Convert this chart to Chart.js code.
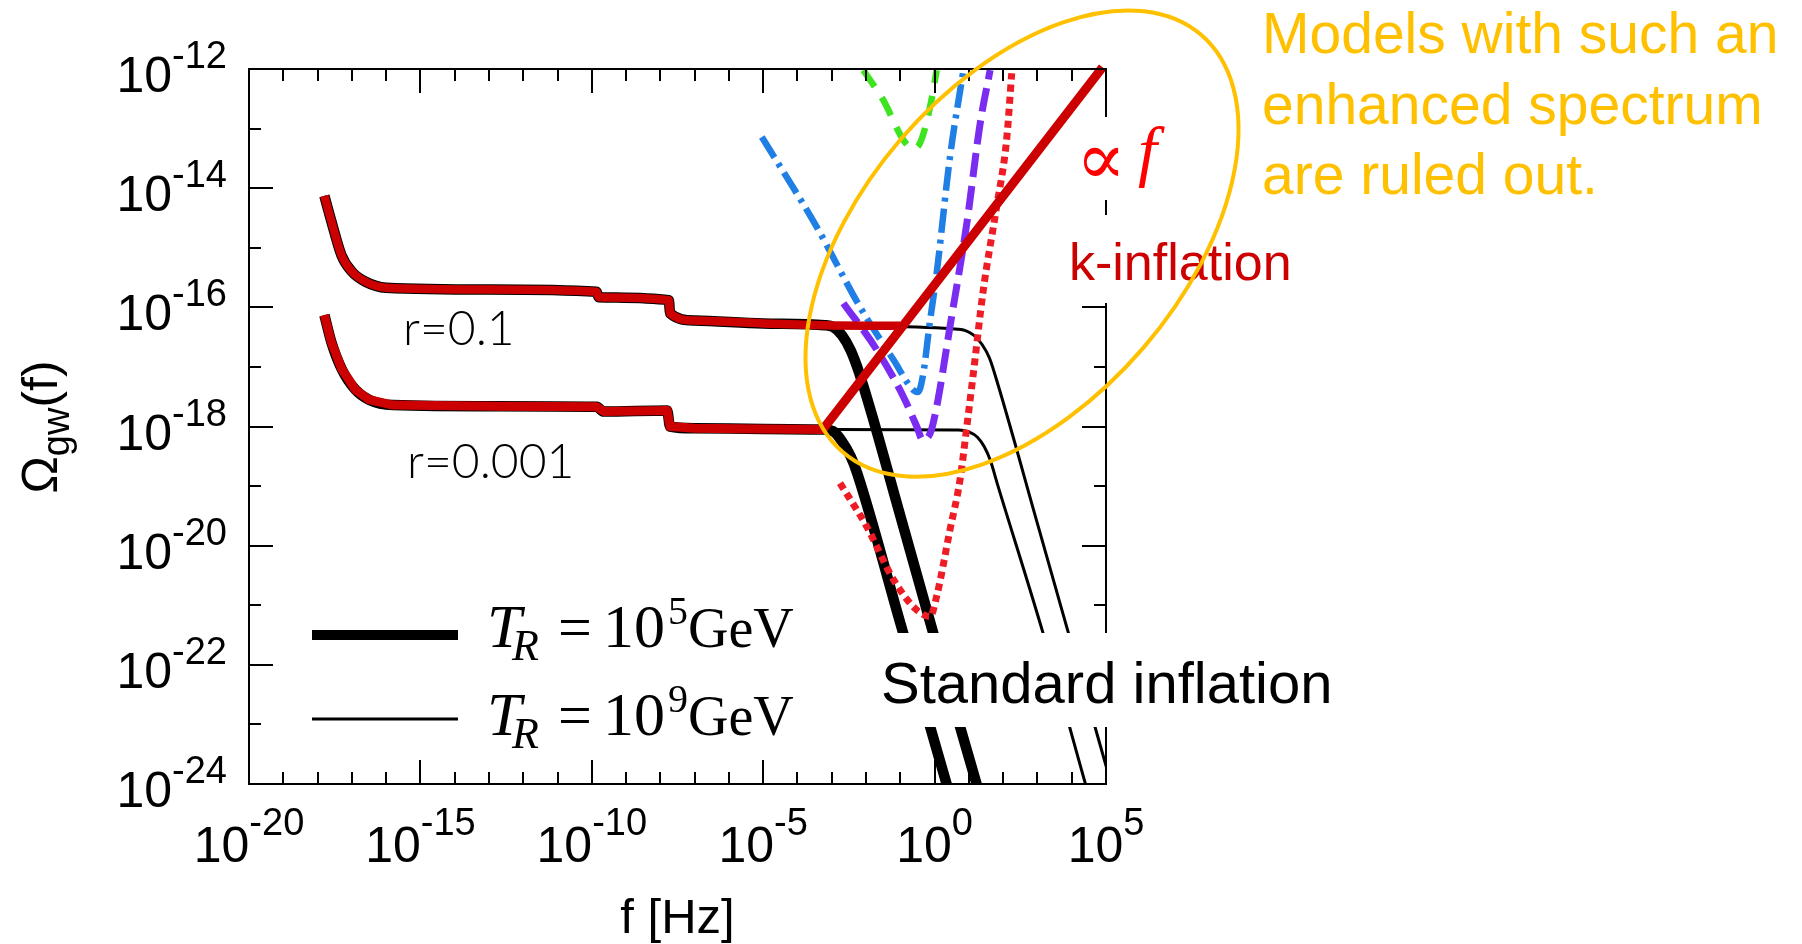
<!DOCTYPE html>
<html>
<head>
<meta charset="utf-8">
<title>Omega_gw(f)</title>
<script src="https://cdn.jsdelivr.net/npm/chart.js@4"></script>
<style>
html, body { margin: 0; padding: 0; background: #fff; }
#wrap { position: relative; width: 1802px; height: 944px; }
</style>
</head>
<body>
<div id="wrap"><canvas id="chart"></canvas></div>
<script>
// all values are log10 exponents: f in Hz, Omega_gw dimensionless
const fRange = [-20, 5];
const omegaRange = [-24, -12];
const fLabelExps = [-20, -15, -10, -5, 0, 5];
const omegaLabelExps = [-24, -22, -20, -18, -16, -14, -12];
const legendExps = ['5', '9'];

// r = 0.1, common low-frequency part
const flatHiF = [-17.8, -17.6, -17.3, -17.0, -16.6, -16.0, -13.0, -9.86, -9.8, -7.75, -7.72, -7.0, -5.0, -3.2];
const flatHiO = [-14.13, -14.55, -15.13, -15.4, -15.57, -15.67, -15.7, -15.74, -15.83, -15.88, -16.1, -16.22, -16.27, -16.3];
// r = 0.001, common low-frequency part
const flatLoF = [-17.8, -17.6, -17.3, -16.9, -16.5, -15.8, -12.8, -9.86, -9.65, -7.8, -7.72, -7.0, -5.0, -3.26];
const flatLoO = [-16.13, -16.58, -17.03, -17.38, -17.55, -17.64, -17.66, -17.67, -17.75, -17.73, -18.0, -18.03, -18.04, -18.05];

// high-frequency fall-off, T_R = 1e5 GeV (thick)
const dropHi5F = [-2.96, -2.7, -2.45, -2.2, -1.0, 0.0, 1.3];
const dropHi5O = [-16.33, -16.47, -16.72, -17.1, -19.5, -21.55, -24.15];
const dropLo5F = [-2.96, -2.7, -2.45, -2.26, -1.0, 0.45];
const dropLo5O = [-18.08, -18.25, -18.5, -18.78, -21.3, -24.2];
// T_R = 1e9 GeV (thin)
const dropHi9F = [0.5, 0.9, 1.15, 1.38, 1.6, 1.85, 3.0, 4.0, 5.2];
const dropHi9O = [-16.36, -16.39, -16.47, -16.62, -16.85, -17.3, -19.63, -21.66, -24.1];
const dropLo9F = [0.7, 1.0, 1.25, 1.45, 1.62, 1.85, 3.16, 4.45];
const dropLo9O = [-18.06, -18.09, -18.18, -18.34, -18.56, -19.0, -21.46, -24.1];

// k-inflation: follows r=0.001 then rises as a straight line; r=0.1 branch ends at crossing
const kEndF = [4.9];
const kEndO = [-11.97];
const kHiEndF = [-1.0];
const kHiEndO = [-16.31];

// sensitivity curves
const blueF = [-5.04, -3.44, -2.18, -1.2, -0.62, -0.48, -0.33, -0.15, 0.06, 0.45, 0.84];
const blueO = [-13.14, -14.65, -15.99, -16.88, -17.39, -17.42, -17.11, -16.3, -15.43, -13.47, -12.02];
const purpleF = [-2.66, -1.69, -0.91, -0.52, -0.35, -0.12, 0.06, 0.45, 0.94, 1.33, 1.62];
const purpleO = [-15.93, -16.71, -17.5, -18.0, -18.22, -18.1, -17.67, -16.32, -14.59, -12.91, -12.02];
const redDotF = [-2.76, -1.98, -1.2, -0.52, -0.13, 0.06, 0.45, 0.74, 0.94, 1.13, 1.42, 1.81, 2.1, 2.25];
const redDotO = [-18.95, -19.68, -20.57, -21.08, -21.19, -20.85, -19.73, -18.9, -18.0, -17.11, -15.71, -14.31, -13.19, -12.07];
const greenF = [-2.08, -1.5, -0.9, -0.62, -0.43, -0.13, 0.06];
const greenO = [-12.02, -12.52, -13.2, -13.33, -13.25, -12.63, -12.02];

// yellow ellipse: centre in data exponents
const ellipseCentre = [2.55, -14.93];

const pts = (fs, os) => fs.map((f, i) => ({ x: 10 ** f, y: 10 ** os[i] }));

function curve(label, fs, os, color, width, dash, order, extra) {
    return Object.assign({
        label: label,
        data: pts(fs, os),
        showLine: true,
        borderColor: color,
        borderWidth: width,
        borderDash: dash,
        pointRadius: 0,
        fill: false,
        order: order,
        cubicInterpolationMode: 'monotone',
        borderJoinStyle: 'round'
    }, extra || {});
}

const datasets = [
    curve('k-inflation', flatLoF.concat(kEndF), flatLoO.concat(kEndO), '#cc0000', 9, [], 0,
        { cubicInterpolationMode: 'default', tension: 0, clip: 6 }),
    curve('k-inflation r=0.1', flatHiF.concat(kHiEndF), flatHiO.concat(kHiEndO), '#cc0000', 8.5, [], 1),
    curve('green', greenF, greenO, '#3fe420', 6.5, [20, 13], 2),
    curve('blue', blueF, blueO, '#1f7fe5', 6.5, [24, 7, 4, 7], 3),
    curve('purple', purpleF, purpleO, '#7a2df0', 7, [24, 9], 4),
    curve('red dotted', redDotF, redDotO, '#ee1c25', 7, [7, 5], 5),
    curve('r=0.1 TR=1e9', flatHiF.concat(dropHi9F), flatHiO.concat(dropHi9O), '#000', 3, [], 6),
    curve('r=0.001 TR=1e9', flatLoF.concat(dropLo9F), flatLoO.concat(dropLo9O), '#000', 3, [], 7),
    curve('r=0.1 TR=1e5', flatHiF.concat(dropHi5F), flatHiO.concat(dropHi5O), '#000', 10.5, [], 8),
    curve('r=0.001 TR=1e5', flatLoF.concat(dropLo5F), flatLoO.concat(dropLo5O), '#000', 10.5, [], 9)
];

const SANS = '"Liberation Sans", Arial, Helvetica, sans-serif';
const SERIF = '"Liberation Serif", "Times New Roman", serif';

function put(ctx, s, x, y, font, color) {
    ctx.font = font;
    ctx.fillStyle = color;
    ctx.fillText(s, x, y);
    return ctx.measureText(s).width;
}

const decorations = {
    id: 'decorations',
    afterDatasetsDraw(chart) {
        const ctx = chart.ctx;
        const a = chart.chartArea;
        const xs = chart.scales.x, ys = chart.scales.y;
        ctx.save();
        ctx.textAlign = 'left';
        ctx.textBaseline = 'alphabetic';

        // frame and inward ticks on all four sides
        ctx.strokeStyle = '#000';
        ctx.lineWidth = 2;
        ctx.strokeRect(a.left, a.top, a.right - a.left, a.bottom - a.top);
        ctx.beginPath();
        for (let e = fRange[0]; e <= fRange[1]; e++) {
            const px = Math.round(xs.getPixelForValue(10 ** e));
            const len = e % 5 === 0 ? 24 : 12;
            ctx.moveTo(px, a.bottom); ctx.lineTo(px, a.bottom - len);
            ctx.moveTo(px, a.top); ctx.lineTo(px, a.top + len);
        }
        for (let e = omegaRange[0]; e <= omegaRange[1]; e++) {
            const py = Math.round(ys.getPixelForValue(10 ** e));
            const len = e % 2 === 0 ? 24 : 12;
            ctx.moveTo(a.left, py); ctx.lineTo(a.left + len, py);
            ctx.moveTo(a.right, py); ctx.lineTo(a.right - len, py);
        }
        ctx.stroke();

        // tick labels 10^n
        const baseFont = '50px ' + SANS, supFont = '38px ' + SANS;
        ctx.font = baseFont;
        const bw = ctx.measureText('10').width;
        fLabelExps.forEach(e => {
            const px = xs.getPixelForValue(10 ** e);
            const sup = String(e);
            ctx.font = supFont;
            const sw = ctx.measureText(sup).width;
            const x0 = px - (bw + sw) / 2;
            put(ctx, '10', x0, a.bottom + 78, baseFont, '#000');
            put(ctx, sup, x0 + bw, a.bottom + 51, supFont, '#000');
        });
        omegaLabelExps.forEach(e => {
            const py = ys.getPixelForValue(10 ** e);
            const sup = String(e);
            ctx.font = supFont;
            const sw = ctx.measureText(sup).width;
            const x0 = a.left - 22 - sw - bw;
            put(ctx, '10', x0, py + 23, baseFont, '#000');
            put(ctx, sup, x0 + bw, py - 1, supFont, '#000');
        });

        // axis titles
        ctx.font = '49px ' + SANS;
        const tw = ctx.measureText('f [Hz]').width;
        put(ctx, 'f [Hz]', (a.left + a.right) / 2 - tw / 2, 933, '49px ' + SANS, '#000');

        ctx.save();
        ctx.translate(57, 427);
        ctx.rotate(-Math.PI / 2);
        ctx.font = '50px ' + SANS;
        const w1 = ctx.measureText('\u03A9').width;
        const w3 = ctx.measureText('(f)').width;
        ctx.font = '38px ' + SANS;
        const w2 = ctx.measureText('gw').width;
        let tx = -(w1 + w2 + w3) / 2;
        tx += put(ctx, '\u03A9', tx, 0, '50px ' + SANS, '#000');
        tx += put(ctx, 'gw', tx, 12, '38px ' + SANS, '#000');
        put(ctx, '(f)', tx, 0, '50px ' + SANS, '#000');
        ctx.restore();

        // curve labels
        put(ctx, 'r=0.1', 403, 345, '300 48px Lato, ' + SANS, '#000');
        put(ctx, 'r=0.001', 407, 478, '300 48px Lato, ' + SANS, '#000');

        // legend
        const rows = [{ y: 635, text: 647, w: 10 }, { y: 719, text: 735, w: 3 }];
        rows.forEach((r, i) => {
            ctx.strokeStyle = '#000';
            ctx.lineWidth = r.w;
            ctx.beginPath();
            ctx.moveTo(312, r.y); ctx.lineTo(458, r.y);
            ctx.stroke();
            put(ctx, 'T', 487, r.text, 'italic 62px ' + SERIF, '#000');
            put(ctx, 'R', 512, r.text + 13, 'italic 44px ' + SERIF, '#000');
            put(ctx, '=', 558, r.text, '60px ' + SERIF, '#000');
            put(ctx, '10', 603, r.text, '62px ' + SERIF, '#000');
            put(ctx, legendExps[i], 668, r.text - 23, '40px ' + SERIF, '#000');
            put(ctx, 'GeV', 688, r.text, '56px ' + SERIF, '#000');
        });

        // white label boxes that hide the frame behind them
        ctx.fillStyle = '#fff';
        ctx.fillRect(1075, 117, 120, 83);
        ctx.fillRect(1062, 215, 240, 88);
        ctx.fillRect(860, 633, 485, 94);
        put(ctx, '\u221D', 1076, 184, '74px "DejaVu Serif", ' + SERIF, '#ff0000');
        put(ctx, 'f', 1138, 174, 'italic 68px ' + SERIF, '#ff0000');
        put(ctx, 'k-inflation', 1069, 280, '52px ' + SANS, '#cc0000');
        put(ctx, 'Standard inflation', 881, 703, '58px ' + SANS, '#000');

        // ellipse around the excluded region
        const cx = xs.getPixelForValue(10 ** ellipseCentre[0]);
        const cy = ys.getPixelForValue(10 ** ellipseCentre[1]);
        ctx.strokeStyle = '#ffc000';
        ctx.lineWidth = 4;
        ctx.beginPath();
        ctx.ellipse(cx, cy, 275, 160, -49.3 * Math.PI / 180, 0, 2 * Math.PI);
        ctx.stroke();

        const note = ['Models with such an', 'enhanced spectrum', 'are ruled out.'];
        note.forEach((s, i) => put(ctx, s, 1262, 53 + i * 70.5, '57px ' + SANS, '#ffc000'));

        ctx.restore();
    }
};

new Chart(document.getElementById('chart'), {
    type: 'scatter',
    data: { datasets: datasets },
    options: {
        responsive: true,
        maintainAspectRatio: false,
        animation: false,
        layout: { padding: { left: 249, right: 696, top: 69, bottom: 160 } },
        plugins: {
            legend: { display: false },
            tooltip: { enabled: false }
        },
        scales: {
            x: { type: 'logarithmic', min: 10 ** fRange[0], max: 10 ** fRange[1], display: false },
            y: { type: 'logarithmic', min: 10 ** omegaRange[0], max: 10 ** omegaRange[1], display: false }
        }
    },
    plugins: [decorations]
});
</script>
</body>
</html>
